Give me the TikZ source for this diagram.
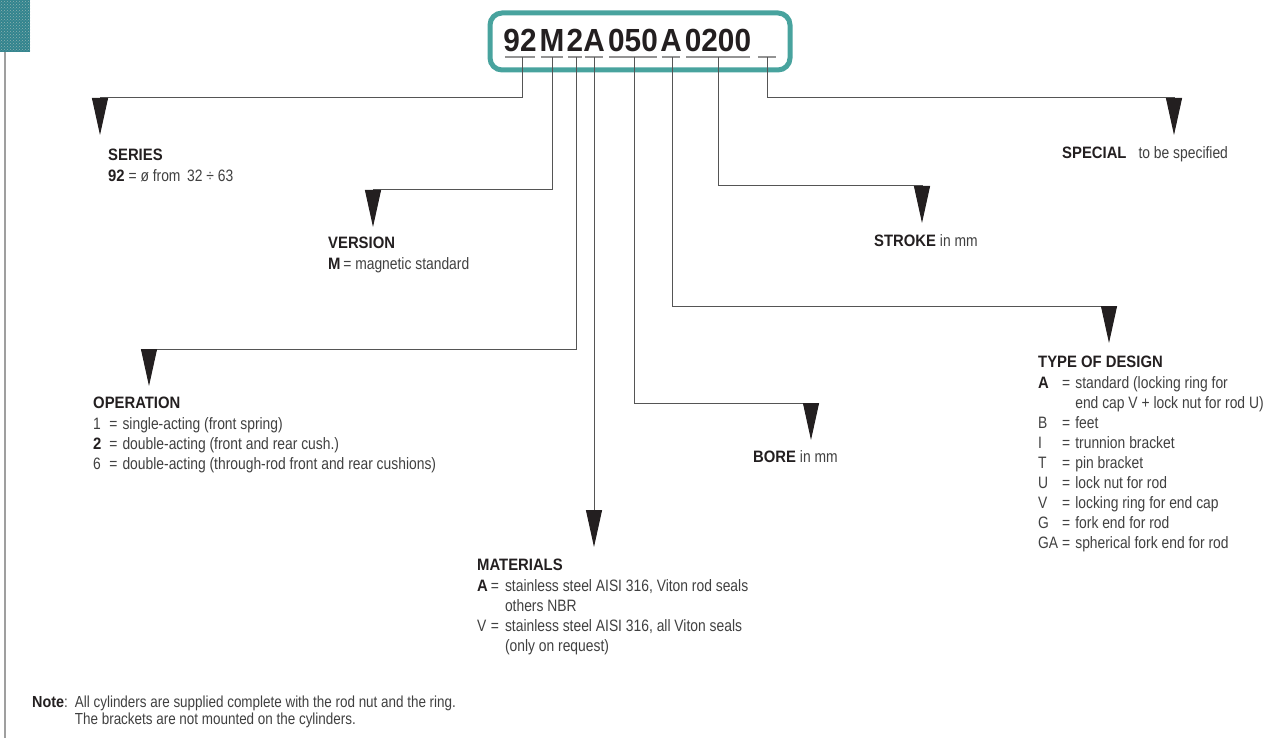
\documentclass[tikz,border=0pt]{standalone}
\usepackage{fontspec}
\setmainfont{Liberation Sans}[FakeStretch=0.84]
\newfontfamily\headfont{Liberation Sans}[FakeStretch=0.9]
\newfontfamily\codefont{Liberation Sans}[FakeStretch=0.93]
\usetikzlibrary{arrows.meta,positioning,patterns}
\definecolor{codeteal}{RGB}{72,163,158}
\definecolor{tileteal}{RGB}{50,132,142}
\definecolor{ink}{RGB}{35,31,32}
\definecolor{txt}{RGB}{64,64,64}
\definecolor{wirec}{RGB}{85,85,85}
\newcommand{\hd}[1]{{\headfont\bfseries\color{ink}#1}}

\tikzset{
  digit/.style={font=\codefont\bfseries\fontsize{32}{32}\selectfont,text=ink,inner sep=0pt,anchor=base},
  uline/.style={draw=gray!85,line width=1.2pt},
  wire/.style={draw=wirec,line width=1pt,-{Triangle[length=37pt,width=16pt,color=ink]}},
  lbl/.style={anchor=base west,inner sep=0pt,font=\fontsize{16.5}{20}\selectfont,text=txt},
}

\begin{document}
\begin{tikzpicture}[x=1pt,y=-1pt]
        \useasboundingbox (0,0) rectangle (1269,738);

        % page margin mark
        \fill[tileteal] (0,0) rectangle (30,52);
        \fill[pattern=crosshatch dots,pattern color=codeteal!55!gray!70!white] (0,0) rectangle (30,52);
        \draw[gray!75,line width=1.5pt] (5,52) -- (5,738);

        % order code
        \node[draw=codeteal,line width=5pt,rounded corners=12pt,minimum width=300pt,minimum height=57pt] (code) at (640,41.5) {};
        \foreach \n/\t/\x in {c1/92/520,c2/M/552,c3/2/575,c4/A/594,c5/050/633,c6/A/671,c7/0200/718}
          \node[digit] (\n) at (\x,52) {\t};
        \node[digit,minimum width=21pt] (c8) at (767,52) {\phantom{0}};
        \foreach \n in {c1,c2,c3,c4,c5,c6,c7,c8}
          \draw[uline] ([xshift=1.5pt,yshift=-5pt]\n.base west) -- ([xshift=-1.5pt,yshift=-5pt]\n.base east);

        % arrow tips
        \coordinate (t1) at (100,135);
        \coordinate (t2) at (373,227);
        \coordinate (t3) at (149,386);
        \coordinate (t4) at (594,547);
        \coordinate (t5) at (811,440);
        \coordinate (t6) at (1109,343);
        \coordinate (t7) at (922,223);
        \coordinate (t8) at (1174,135);

        \draw[wire] ([xshift=2pt,yshift=-5pt]c1.base) |- ([yshift=37pt]t1) -- (t1);
        \draw[wire] ([yshift=-5pt]c2.base) |- ([yshift=37pt]t2) -- (t2);
        \draw[wire] ([xshift=1pt,yshift=-5pt]c3.base) |- ([yshift=37pt]t3) -- (t3);
        \draw[wire] ([yshift=-5pt]c4.base) -- (t4);
        \draw[wire] ([xshift=1pt,yshift=-5pt]c5.base) |- ([yshift=37pt]t5) -- (t5);
        \draw[wire] ([xshift=1pt,yshift=-5pt]c6.base) |- ([yshift=37pt]t6) -- (t6);
        \draw[wire] ([yshift=-5pt]c7.base) |- ([yshift=37pt]t7) -- (t7);
        \draw[wire] ([yshift=-5pt]c8.base) |- ([yshift=37pt]t8) -- (t8);

        % labels
        \node[lbl] (series) at (108,160.5) {\begin{tabular}[t]{@{}l@{}}
          \hd{SERIES}\\[1pt]
          \hd{92} = ø from\, 32 ÷ 63
        \end{tabular}};
        \node[lbl] (version) at (328,248.5) {\begin{tabular}[t]{@{}l@{}}
          \hd{VERSION}\\[1pt]
          \hd{M}\,= magnetic standard
        \end{tabular}};
        \node[lbl] (operation) at (93,408.5) {\begin{tabular}[t]{@{}l@{\hspace{8pt}}l@{\hspace{5pt}}l@{}}
          \multicolumn{3}{@{}l}{\hd{OPERATION}}\\[1pt]
          1 & = & single-acting (front spring)\\
          \hd{2} & = & double-acting (front and rear cush.)\\
          6 & = & double-acting (through-rod front and rear cushions)
        \end{tabular}};
        \node[lbl] (materials) at (477,570.5) {\begin{tabular}[t]{@{}l@{\hspace{3pt}}l@{\hspace{6pt}}l@{}}
          \multicolumn{3}{@{}l}{\hd{MATERIALS}}\\[1pt]
          \hd{A} & = & stainless steel AISI 316, Viton rod seals\\
                 &   & others NBR\\
          V & = & stainless steel AISI 316, all Viton seals\\
            &   & (only on request)
        \end{tabular}};
        \node[lbl] (bore) at (753,462.5) {\hd{BORE} in mm};
        \node[lbl] (design) at (1038,367.5) {\begin{tabular}[t]{@{}l@{\hspace{4pt}}l@{\hspace{5pt}}l@{}}
          \multicolumn{3}{@{}l}{\hd{TYPE OF DESIGN}}\\[1pt]
          \hd{A} & = & standard (locking ring for\\
                 &   & end cap V + lock nut for rod U)\\
          B & = & feet\\
          I & = & trunnion bracket\\
          T & = & pin bracket\\
          U & = & lock nut for rod\\
          V & = & locking ring for end cap\\
          G & = & fork end for rod\\
          GA & = & spherical fork end for rod
        \end{tabular}};
        \node[lbl] (stroke) at (874,246.5) {\hd{STROKE} in mm};
        \node[lbl] (special) at (1062,158.5) {\hd{SPECIAL}\hspace{12pt}to be specified};

        % note
        \node[lbl,font=\fontsize{16}{16.5}\selectfont] (note) at (32,707.5) {\begin{tabular}[t]{@{}l@{\hspace{7pt}}l@{}}
          \hd{Note}: & All cylinders are supplied complete with the rod nut and the ring.\\
                     & The brackets are not mounted on the cylinders.
        \end{tabular}};

      \end{tikzpicture}
\end{document}
